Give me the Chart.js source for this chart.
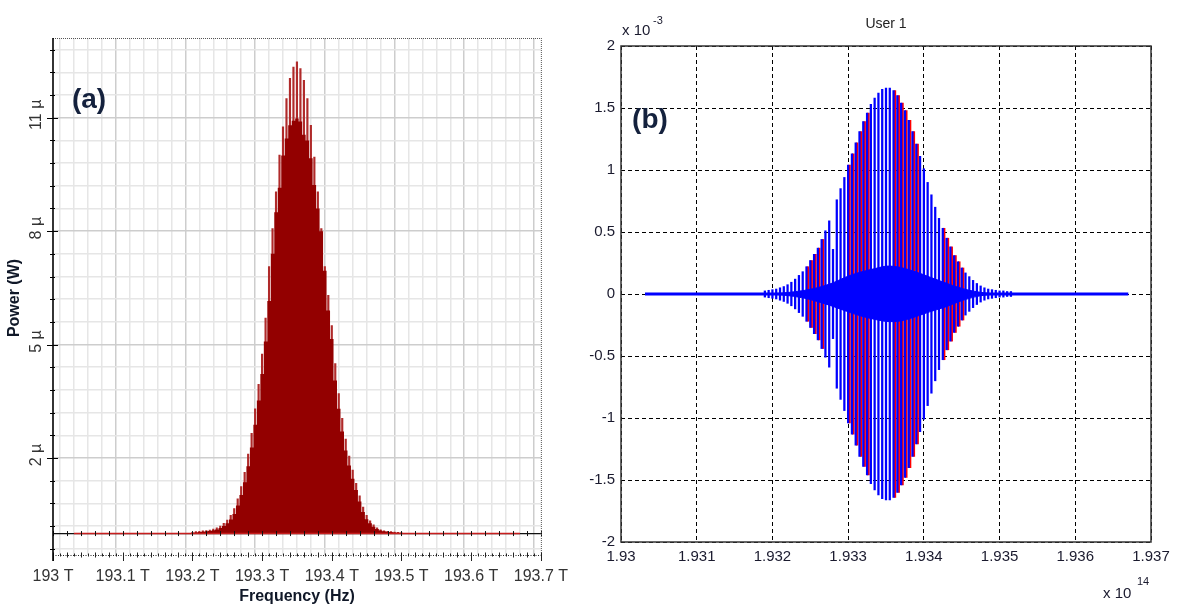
<!DOCTYPE html>
<html>
<head>
<meta charset="utf-8">
<script src="https://cdn.jsdelivr.net/npm/chart.js@4.4.1/dist/chart.umd.min.js"></script>
<style>
  html, body { margin: 0; padding: 0; background: #fff; }
  #wrap { position: relative; width: 1179px; height: 604px; overflow: hidden; background: #fff; }
  canvas { position: absolute; top: 0; }
  #spectrum { left: 0; }
  #user1 { left: 580px; }
</style>
</head>
<body>
<div id="wrap">
  <canvas id="spectrum" width="580" height="604"></canvas>
  <canvas id="user1" width="599" height="604"></canvas>
</div>
<script>
const SANS = '"Liberation Sans", Arial, sans-serif';

// (a) optical spectrum: frequency in THz, power in µW
const freqA = [
  193.200, 193.205, 193.210, 193.215, 193.220, 193.225, 193.230, 193.235, 193.240, 193.245,
  193.250, 193.255, 193.260, 193.265, 193.270, 193.275, 193.280, 193.285, 193.290, 193.295,
  193.300, 193.305, 193.310, 193.315, 193.320, 193.325, 193.330, 193.335, 193.340, 193.345,
  193.350, 193.355, 193.360, 193.365, 193.370, 193.375, 193.380, 193.385, 193.390, 193.395,
  193.400, 193.405, 193.410, 193.415, 193.420, 193.425, 193.430, 193.435, 193.440, 193.445,
  193.450, 193.455, 193.460, 193.465, 193.470, 193.475, 193.480, 193.485, 193.490, 193.495,
  193.500
];
const fillA = [
  0.02, 0.03, 0.04, 0.05, 0.06, 0.07, 0.09, 0.11, 0.15, 0.20,
  0.27, 0.37, 0.52, 0.74, 1.02, 1.36, 1.78, 2.28, 2.88, 3.52,
  4.22, 5.08, 6.15, 7.40, 8.50, 9.15, 10.00, 10.45, 10.80, 10.92,
  10.98, 10.90, 10.55, 10.40, 9.93, 9.22, 8.60, 8.00, 6.95, 5.90,
  5.15, 4.05, 3.30, 2.70, 2.20, 1.80, 1.45, 1.15, 0.85, 0.57,
  0.38, 0.27, 0.18, 0.12, 0.08, 0.06, 0.05, 0.04, 0.03, 0.02,
  0.02
];
const spikeA = [
  0.03, 0.05, 0.06, 0.07, 0.08, 0.09, 0.12, 0.15, 0.20, 0.27,
  0.36, 0.48, 0.66, 0.92, 1.24, 1.62, 2.10, 2.65, 3.30, 3.95,
  4.75, 5.70, 7.06, 8.07, 9.04, 10.01, 10.76, 11.51, 12.04, 12.34,
  12.48, 12.30, 11.99, 11.51, 10.80, 9.96, 9.04, 8.07, 7.06, 6.30,
  5.50, 4.50, 3.70, 3.05, 2.50, 2.05, 1.68, 1.33, 1.00, 0.70,
  0.48, 0.34, 0.23, 0.15, 0.10, 0.07, 0.06, 0.05, 0.04, 0.03,
  0.02
];
const baseA = [193.03, 193.67];
const xTickValsA = [193, 193.1, 193.2, 193.3, 193.4, 193.5, 193.6, 193.7];
const xLabelsA = ['193 T', '193.1 T', '193.2 T', '193.3 T', '193.4 T', '193.5 T', '193.6 T', '193.7 T'];
const yTickValsA = [2, 5, 8, 11];
const yLabelsA = ['2 µ', '5 µ', '8 µ', '11 µ'];

// (b) User 1: frequency in 1e14 Hz, amplitude in 1e-3
const freqB = [
  1.93190, 1.93195, 1.93200, 1.93205, 1.93210, 1.93215, 1.93220, 1.93225, 1.93230, 1.93235,
  1.93240, 1.93245, 1.93250, 1.93255, 1.93260, 1.93265, 1.93270, 1.93275, 1.93280, 1.93285,
  1.93290, 1.93295, 1.93300, 1.93305, 1.93310, 1.93315, 1.93320, 1.93325, 1.93330, 1.93335,
  1.93340, 1.93345, 1.93350, 1.93355, 1.93360, 1.93365, 1.93370, 1.93375, 1.93380, 1.93385,
  1.93390, 1.93395, 1.93400, 1.93405, 1.93410, 1.93415, 1.93420, 1.93425, 1.93430, 1.93435,
  1.93440, 1.93445, 1.93450, 1.93455, 1.93460, 1.93465, 1.93470, 1.93475, 1.93480, 1.93485,
  1.93490, 1.93495, 1.93500, 1.93505, 1.93510, 1.93515
];
const ampB = [
  0.025, 0.03, 0.035, 0.04, 0.05, 0.06, 0.075, 0.095, 0.12, 0.15,
  0.18, 0.22, 0.27, 0.32, 0.37, 0.44, 0.51, 0.59, 0.36, 0.76,
  0.85, 0.94, 1.04, 1.13, 1.22, 1.31, 1.39, 1.46, 1.53, 1.58,
  1.62, 1.65, 1.66, 1.66, 1.64, 1.60, 1.54, 1.48, 1.40, 1.31,
  1.21, 1.11, 1.01, 0.90, 0.80, 0.70, 0.61, 0.53, 0.45, 0.38,
  0.31, 0.26, 0.21, 0.17, 0.14, 0.11, 0.085, 0.065, 0.05, 0.04,
  0.035, 0.03, 0.025, 0.025, 0.02, 0.02
];
const redFreqB = [
  1.932468, 1.932518, 1.932568, 1.932618, 1.932668,
  1.933018, 1.933068, 1.933118, 1.933168, 1.933218, 1.933268,
  1.933618, 1.933668, 1.933718, 1.933768, 1.933818, 1.933868, 1.933918,
  1.934268, 1.934318, 1.934368, 1.934418, 1.934468, 1.934518
];
const redAmpB = [
  0.22, 0.27, 0.32, 0.37, 0.44,
  1.04, 1.13, 1.22, 1.31, 1.39, 1.46,
  1.64, 1.60, 1.54, 1.48, 1.40, 1.31, 1.21,
  0.53, 0.45, 0.38, 0.31, 0.26, 0.21
];
const blobFreqB = [
  1.931836, 1.932100, 1.932232, 1.932431, 1.932590, 1.932800, 1.932980, 1.933157,
  1.933355, 1.933514, 1.933686, 1.933857, 1.934000, 1.934150, 1.934306, 1.934450,
  1.934600, 1.934742, 1.934941
];
const blobUpB = [
  0, 0.006, 0.014, 0.03, 0.05, 0.09, 0.14, 0.175,
  0.205, 0.225, 0.215, 0.185, 0.155, 0.12, 0.085, 0.055,
  0.03, 0.014, 0
];
const blobDownB = [
  0, -0.006, -0.015, -0.035, -0.06, -0.1, -0.14, -0.175,
  -0.205, -0.222, -0.218, -0.19, -0.16, -0.13, -0.1, -0.065,
  -0.035, -0.015, 0
];
const zeroLineB = [1.930317, 1.9367];
const xTickValsB = [1.930, 1.931, 1.932, 1.933, 1.934, 1.935, 1.936, 1.937];
const xLabelsB = ['1.93', '1.931', '1.932', '1.933', '1.934', '1.935', '1.936', '1.937'];
const yTickValsB = [-2, -1.5, -1, -0.5, 0, 0.5, 1, 1.5, 2];
const yLabelsB = ['-2', '-1.5', '-1', '-0.5', '0', '0.5', '1', '1.5', '2'];

// grid steps of the spectrum panel: 0.02 THz and 0.6 µW
const gridXA = [];
for (let i = 0; i <= 35; i++) gridXA.push(Math.round((193 + i * 0.02) * 1000) / 1000);
const gridYA = [];
for (let i = 0; i <= 22; i++) gridYA.push(Math.round((-0.4 + i * 0.6) * 100) / 100);
const near = (list, v) => list.findIndex(t => Math.abs(t - v) < 1e-6);

const decorA = {
  id: 'decorA',
  beforeDatasetsDraw(chart) {
    const { ctx, chartArea: a, scales: { y } } = chart;
    const y0 = y.getPixelForValue(0);
    ctx.save();
    ctx.strokeStyle = '#111';
    ctx.lineWidth = 1.2;
    ctx.beginPath();
    ctx.moveTo(a.left, y0);
    ctx.lineTo(a.right, y0);
    ctx.stroke();
    ctx.restore();
  },
  afterDatasetsDraw(chart) {
    const { ctx, chartArea: a, scales: { x, y } } = chart;
    const y0 = y.getPixelForValue(0);
    ctx.save();
    ctx.strokeStyle = '#111';
    ctx.lineWidth = 1;

    // small marks on the zero line
    ctx.beginPath();
    gridXA.forEach(v => {
      const px = Math.round(x.getPixelForValue(v)) + 0.5;
      ctx.moveTo(px, y0 - 2.5);
      ctx.lineTo(px, y0 + 2.5);
    });
    ctx.stroke();

    // dotted top and right frame
    ctx.strokeStyle = '#555';
    ctx.setLineDash([1, 1]);
    ctx.beginPath();
    ctx.moveTo(a.left, a.top + 0.5);
    ctx.lineTo(a.right, a.top + 0.5);
    ctx.moveTo(a.right + 0.5, a.top);
    ctx.lineTo(a.right + 0.5, a.bottom);
    ctx.stroke();

    // dotted bottom axis with ticks
    ctx.strokeStyle = '#222';
    ctx.setLineDash([1, 1.5]);
    ctx.beginPath();
    ctx.moveTo(a.left, a.bottom + 0.5);
    ctx.lineTo(a.right, a.bottom + 0.5);
    ctx.stroke();
    ctx.setLineDash([]);
    ctx.beginPath();
    for (let i = 0; i <= 70; i++) {
      const px = Math.round(x.getPixelForValue(193 + i * 0.01)) + 0.5;
      const h = i % 2 === 0 ? 2.5 : 1.5;
      ctx.moveTo(px, a.bottom - h);
      ctx.lineTo(px, a.bottom + h);
    }
    xTickValsA.forEach(v => {
      const px = Math.round(x.getPixelForValue(v)) + 0.5;
      ctx.moveTo(px, a.bottom);
      ctx.lineTo(px, a.bottom + 6);
    });
    ctx.stroke();

    // solid left axis with ticks
    ctx.strokeStyle = '#000';
    ctx.lineWidth = 1.6;
    ctx.beginPath();
    ctx.moveTo(a.left, a.top);
    ctx.lineTo(a.left, a.bottom + 6);
    ctx.stroke();
    ctx.lineWidth = 1.2;
    ctx.beginPath();
    gridYA.forEach(v => {
      const py = Math.round(y.getPixelForValue(v)) + 0.5;
      const w = near(yTickValsA, v) >= 0 ? 6 : 3;
      ctx.moveTo(a.left - w, py);
      ctx.lineTo(a.left + (w > 3 ? 5 : 2), py);
    });
    ctx.stroke();

    // rotated power labels
    ctx.fillStyle = '#333';
    ctx.font = '16px ' + SANS;
    ctx.textAlign = 'center';
    ctx.textBaseline = 'middle';
    yTickValsA.forEach((v, i) => {
      ctx.save();
      ctx.translate(37, y.getPixelForValue(v) - 3);
      ctx.rotate(-Math.PI / 2);
      ctx.fillText(yLabelsA[i], 0, 0);
      ctx.restore();
    });

    // axis titles and panel tag
    ctx.fillStyle = '#101828';
    ctx.font = 'bold 16px ' + SANS;
    ctx.save();
    ctx.translate(15, 298);
    ctx.rotate(-Math.PI / 2);
    ctx.fillText('Power (W)', 0, 0);
    ctx.restore();
    ctx.textBaseline = 'top';
    ctx.fillText('Frequency (Hz)', 297, 589);
    ctx.fillStyle = '#14213d';
    ctx.font = 'bold 28px ' + SANS;
    ctx.textBaseline = 'middle';
    ctx.fillText('(a)', 89, 100);
    ctx.restore();
  }
};

new Chart(document.getElementById('spectrum'), {
  type: 'line',
  data: {
    datasets: [
      {
        data: baseA.map(f => ({ x: f, y: 0 })),
        borderColor: '#c81e1e',
        borderWidth: 1.6,
        pointRadius: 0,
        fill: false
      },
      {
        data: freqA.map((f, i) => ({ x: f, y: fillA[i] })),
        stepped: 'middle',
        borderWidth: 0,
        backgroundColor: '#930000',
        fill: 'origin',
        pointRadius: 0
      },
      {
        type: 'bar',
        data: freqA.map((f, i) => ({ x: f, y: spikeA[i] })),
        backgroundColor: '#b02a2a',
        barThickness: 1.5,
        grouped: false
      }
    ]
  },
  options: {
    responsive: false,
    animation: false,
    devicePixelRatio: 1,
    layout: { padding: { left: 0, top: 38, right: 37, bottom: 0 } },
    plugins: { legend: { display: false }, tooltip: { enabled: false } },
    scales: {
      x: {
        type: 'linear',
        min: 193,
        max: 193.7,
        offset: false,
        afterBuildTicks: s => { s.ticks = gridXA.map(v => ({ value: v })); },
        afterFit: s => { s.height = 49; },
        grid: {
          color: c => (c.tick && near(xTickValsA, c.tick.value) >= 0) ? '#cdcdcd' : '#e6e6e6',
          lineWidth: 1.5,
          drawTicks: false
        },
        border: { display: false },
        ticks: {
          autoSkip: false,
          maxRotation: 0,
          minRotation: 0,
          padding: 12,
          color: '#333',
          font: { family: SANS, size: 16 },
          callback: v => { const i = near(xTickValsA, v); return i >= 0 ? xLabelsA[i] : ''; }
        }
      },
      y: {
        type: 'linear',
        min: -0.567,
        max: 13.11,
        afterBuildTicks: s => { s.ticks = gridYA.map(v => ({ value: v })); },
        afterFit: s => { s.width = 53; },
        grid: {
          color: c => (c.tick && near(yTickValsA, c.tick.value) >= 0) ? '#cdcdcd' : '#e6e6e6',
          lineWidth: 1.5,
          drawTicks: false
        },
        border: { display: false },
        ticks: { display: false }
      }
    }
  },
  plugins: [decorA]
});

const decorB = {
  id: 'decorB',
  afterDraw(chart) {
    const { ctx, chartArea: a } = chart;
    ctx.save();
    ctx.strokeStyle = '#333';
    ctx.lineWidth = 1.5;
    ctx.strokeRect(a.left, a.top, a.right - a.left, a.bottom - a.top);

    ctx.fillStyle = '#222';
    ctx.font = '14px ' + SANS;
    ctx.textAlign = 'center';
    ctx.textBaseline = 'middle';
    ctx.fillText('User 1', (a.left + a.right) / 2, 24);

    ctx.fillStyle = '#1a1a2e';
    ctx.textAlign = 'left';
    ctx.font = '15px ' + SANS;
    ctx.fillText('x 10', 42, 31);
    ctx.fillText('x 10', 523, 594);
    ctx.font = '11px ' + SANS;
    ctx.fillText('-3', 73, 21);
    ctx.fillText('14', 557, 582);

    ctx.fillStyle = '#14213d';
    ctx.font = 'bold 28px ' + SANS;
    ctx.textAlign = 'center';
    ctx.fillText('(b)', 70, 120);
    ctx.restore();
  }
};

new Chart(document.getElementById('user1'), {
  type: 'bar',
  data: {
    datasets: [
      {
        type: 'line',
        data: zeroLineB.map(f => ({ x: f, y: 0 })),
        borderColor: '#0000ff',
        borderWidth: 2.8,
        pointRadius: 0,
        fill: false
      },
      {
        type: 'line',
        data: blobFreqB.map((f, i) => ({ x: f, y: blobUpB[i] })),
        borderColor: '#0000ff',
        borderWidth: 1,
        backgroundColor: '#0000ff',
        fill: '+1',
        tension: 0.3,
        pointRadius: 0
      },
      {
        type: 'line',
        data: blobFreqB.map((f, i) => ({ x: f, y: blobDownB[i] })),
        borderColor: '#0000ff',
        borderWidth: 1,
        tension: 0.3,
        pointRadius: 0,
        fill: false
      },
      {
        data: freqB.map((f, i) => ({ x: f, y: [-ampB[i], ampB[i]] })),
        backgroundColor: '#0000ff',
        barThickness: 1.6,
        grouped: false
      },
      {
        data: redFreqB.map((f, i) => ({ x: f, y: [-redAmpB[i], redAmpB[i]] })),
        backgroundColor: '#ff0000',
        barThickness: 1.8,
        grouped: false
      }
    ]
  },
  options: {
    responsive: false,
    animation: false,
    devicePixelRatio: 1,
    layout: { padding: { left: 0, top: 46, right: 28, bottom: 0 } },
    plugins: { legend: { display: false }, tooltip: { enabled: false } },
    scales: {
      x: {
        type: 'linear',
        min: 1.93,
        max: 1.937,
        offset: false,
        afterBuildTicks: s => { s.ticks = xTickValsB.map(v => ({ value: v })); },
        afterFit: s => { s.height = 62; },
        grid: { color: '#000', lineWidth: 1, drawTicks: false, offset: false },
        border: { display: false, dash: [4, 3] },
        ticks: {
          autoSkip: false,
          maxRotation: 0,
          padding: 6,
          color: '#1a1a2e',
          font: { family: SANS, size: 15 },
          callback: (v, i) => xLabelsB[i]
        }
      },
      y: {
        type: 'linear',
        min: -2,
        max: 2,
        afterBuildTicks: s => { s.ticks = yTickValsB.map(v => ({ value: v })); },
        afterFit: s => { s.width = 41; },
        grid: { color: '#000', lineWidth: 1, drawTicks: false },
        border: { display: false, dash: [4, 3] },
        ticks: {
          padding: 6,
          color: '#1a1a2e',
          font: { family: SANS, size: 15 },
          callback: (v, i) => yLabelsB[i]
        }
      }
    }
  },
  plugins: [decorB]
});
</script>
</body>
</html>
